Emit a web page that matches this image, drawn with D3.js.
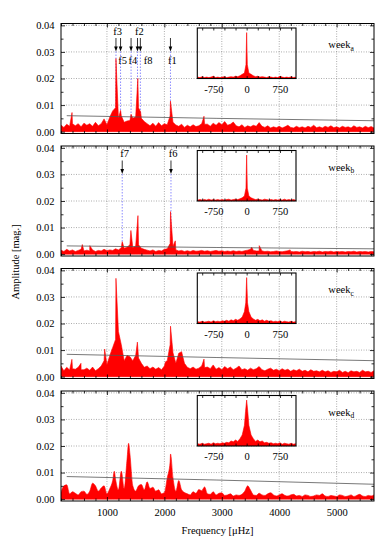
<!DOCTYPE html>
<html>
<head>
<meta charset="utf-8">
<script src="https://cdn.jsdelivr.net/npm/d3@7/dist/d3.min.js"></script>
<style>
    body { margin: 0; background: #fff; }
    svg { display: block; }
    text { font-family: "Liberation Serif", "Times New Roman", serif; font-size: 10.5px; fill: #000; }
</style>
</head>
<body>
<svg id="chart" width="390" height="558"></svg>
<script>
// amplitude spectra, mmag, on a 50 uHz grid from 200 to 5650 uHz
var gridFreqs = d3.range(200, 5651, 50);

var noiseA = [
    2.4, 1.6, 2.8, 2.0, 3.0, 2.2, 3.0, 1.8, 3.2, 2.4,
    3.0, 2.0, 3.5, 2.2, 3.0, 4.8, 2.6, 5.5, 7.8, 9.0,
    5.0, 6.0, 3.5, 4.0, 4.2, 5.0, 5.5, 9.0, 5.0, 3.8,
    3.0, 2.2, 3.2, 2.0, 3.4, 2.2, 3.0, 2.6, 6.0, 3.5,
    2.5, 2.0, 2.8, 1.6, 2.4, 1.8, 2.6, 1.9, 2.2, 3.0,
    2.8, 2.8, 2.0, 3.2, 2.4, 3.4, 2.6, 3.8, 2.4, 2.8,
    3.6, 2.2, 1.8, 2.6, 1.6, 2.2, 1.8, 2.4, 2.0, 3.4,
    2.0, 1.6, 2.2, 1.4, 1.8, 1.5, 2.0, 1.4, 1.8, 2.4,
    1.6, 1.4, 2.0, 1.5, 1.8, 1.4, 2.0, 1.6, 2.4, 1.5,
    1.8, 1.4, 2.0, 1.6, 2.2, 1.5, 1.8, 1.4, 2.0, 1.6,
    1.8, 1.4, 2.2, 1.6, 1.8, 1.4, 2.0, 1.5, 1.9, 1.4
];
var noiseB = [
    1.5, 1.0, 1.8, 1.2, 1.6, 1.0, 1.4, 1.8, 1.2, 1.5,
    1.2, 1.6, 1.0, 1.4, 1.2, 1.8, 1.3, 1.6, 1.4, 2.0,
    1.6, 2.4, 2.2, 2.6, 3.5, 2.5, 3.0, 3.5, 2.2, 1.8,
    1.5, 1.2, 1.6, 1.0, 1.4, 1.2, 1.8, 2.0, 4.0, 3.0,
    1.6, 1.2, 1.4, 1.0, 1.3, 1.0, 1.4, 1.1, 1.2, 1.4,
    1.1, 1.3, 1.0, 1.2, 1.4, 1.1, 1.3, 1.0, 1.2, 1.0,
    1.3, 1.0, 1.2, 1.0, 1.3, 1.5, 1.8, 1.4, 1.2, 1.2,
    1.2, 1.0, 1.1, 0.9, 1.0, 1.2, 1.0, 0.9, 1.1, 1.3,
    1.0, 0.9, 1.0, 0.8, 1.1, 0.9, 1.0, 0.8, 1.0, 0.9,
    1.1, 0.8, 1.0, 0.9, 1.1, 0.8, 1.0, 0.9, 1.0, 0.8,
    1.0, 0.9, 1.1, 0.8, 1.0, 0.9, 1.0, 0.8, 1.0, 0.9
];
var noiseC = [
    4.0, 2.2, 3.5, 2.5, 3.0, 2.8, 3.5, 2.6, 2.6, 3.2,
    2.4, 3.6, 2.2, 3.0, 4.0, 6.0, 4.5, 8.0, 11.0, 14.0,
    17.0, 12.0, 6.0, 8.0, 7.5, 6.0, 8.0, 7.0, 5.0, 3.5,
    4.0, 3.0, 3.6, 2.8, 3.4, 2.6, 4.0, 6.0, 12.0, 9.0,
    5.0, 8.8, 9.4, 5.0, 3.5, 3.0, 3.6, 2.8, 3.2, 4.0,
    3.4, 3.6, 3.0, 4.4, 2.8, 3.4, 2.6, 3.8, 3.0, 3.6,
    2.6, 3.2, 4.0, 2.6, 3.0, 2.4, 3.2, 2.6, 3.0, 3.8,
    2.6, 2.2, 2.8, 3.2, 2.4, 2.8, 2.2, 3.0, 2.4, 2.8,
    2.0, 2.6, 2.2, 2.8, 2.0, 2.4, 1.8, 2.6, 2.0, 2.2,
    1.8, 2.4, 1.8, 2.2, 1.6, 2.0, 1.8, 2.4, 1.6, 2.0,
    1.5, 2.2, 1.8, 2.0, 1.6, 2.4, 1.8, 2.0, 1.6, 2.2
];
var noiseD = [
    2.5, 5.0, 5.4, 2.0, 2.8, 2.2, 1.6, 2.8, 3.0, 1.8,
    3.0, 6.0, 5.0, 3.0, 4.2, 5.0, 2.0, 4.0, 7.0, 7.5,
    3.5, 10.5, 4.0, 15.0, 17.0, 5.0, 3.0, 5.0, 5.5, 3.5,
    6.5, 4.0, 4.5, 3.0, 3.5, 2.0, 2.5, 8.0, 14.0, 8.0,
    3.0, 7.0, 3.5, 2.5, 2.0, 1.6, 2.8, 2.2, 3.6, 3.2,
    4.6, 2.0, 1.8, 2.8, 1.6, 2.2, 2.4, 1.4, 1.6, 2.0,
    1.2, 1.6, 1.4, 1.8, 3.0, 5.0, 3.4, 1.6, 1.4, 2.2,
    1.6, 1.4, 2.0, 2.4, 1.6, 1.2, 1.6, 2.0, 1.4, 1.2,
    1.6, 1.8, 1.2, 1.4, 1.0, 1.6, 1.4, 1.0, 1.2, 1.6,
    1.4, 2.0, 1.2, 1.0, 1.4, 1.2, 1.0, 1.6, 1.4, 1.0,
    1.2, 1.6, 1.0, 1.4, 1.8, 1.2, 1.0, 1.4, 1.2, 1.6
];

// narrow peaks on top of the grid: [uHz, mmag]
var peaksA = [[392, 7.2], [1157, 27.5], [1237, 8.0], [1420, 6.5], [1538, 20.0], [1585, 7.5], [2106, 11.5], [2690, 5.8]];
var peaksB = [[571, 3.6], [702, 3.2], [1266, 4.7], [1417, 8.9], [1540, 14.5], [2107, 16.0], [2190, 5.0], [3520, 2.6], [3652, 3.2], [4190, 1.6]];
var peaksC = [[390, 6.5], [548, 5.0], [960, 10.4], [1157, 37.0], [1530, 13.0], [2020, 5.6], [2107, 19.0], [2690, 6.6]];
var peaksD = [[1128, 10.5], [1377, 21.0], [2107, 17.0]];

// 4 sigma noise level: [uHz, mmag]
var sigA = [[300, 6.0], [2900, 5.0], [5650, 4.1]];
var sigB = [[300, 3.1], [2900, 2.5], [5650, 2.0]];
var sigC = [[300, 8.4], [2900, 7.2], [5650, 6.0]];
var sigD = [[300, 8.5], [2900, 7.2], [5650, 5.6]];

// spectral windows, relative amplitude, 50 uHz grid from -1100 to 1100
var windowFreqs = d3.range(-1100, 1101, 50);
var windowA = [.03, .02, .04, .02, .03, .02, .03, .05, .02, .03, .02, .03, .04, .02, .03, .04, .03, .05, .04, .06, .09, .12,
    1.0, .12, .09, .06, .04, .05, .03, .04, .03, .02, .04, .03, .02, .03, .02, .05, .03, .02, .03, .02, .04, .02, .03];
var windowB = [.02, .03, .02, .03, .02, .04, .02, .03, .02, .03, .02, .03, .02, .03, .04, .02, .03, .04, .03, .05, .07, .11,
    1.0, .11, .07, .05, .03, .04, .03, .02, .04, .03, .02, .03, .02, .03, .02, .03, .02, .04, .02, .03, .02, .03, .02];
var windowC = [.04, .03, .05, .03, .04, .05, .03, .06, .04, .05, .04, .06, .05, .07, .05, .08, .06, .09, .07, .10, .14, .26,
    1.0, .26, .14, .10, .07, .09, .06, .08, .05, .07, .05, .06, .04, .05, .04, .06, .03, .05, .04, .03, .05, .03, .04];
var windowD = [.05, .04, .06, .04, .05, .06, .04, .07, .05, .06, .05, .07, .06, .08, .07, .11, .09, .13, .10, .16, .24, .45,
    1.0, .45, .24, .16, .10, .13, .09, .11, .07, .08, .06, .07, .05, .06, .05, .07, .04, .06, .05, .04, .06, .04, .05];
var windowPeakA = [[-15, .30], [15, .30]];
var windowPeakB = [[-15, .28], [15, .28]];
var windowPeakC = [[-20, .45], [20, .45]];
var windowPeakD = [[-25, .75], [25, .75]];

// identified frequencies: name, uHz, label uHz, label row
var markersA = [
    {name: 'f3', freq: 1157, labelFreq: 1110, row: 'above'},
    {name: 'f5', freq: 1237, labelFreq: 1195, row: 'below'},
    {name: 'f4', freq: 1420, labelFreq: 1375, row: 'below'},
    {name: 'f2', freq: 1532, labelFreq: 1490, row: 'above'},
    {name: 'f8', freq: 1582, labelFreq: 1640, row: 'below'},
    {name: 'f1', freq: 2106, labelFreq: 2065, row: 'below'}
];
var markersB = [
    {name: 'f7', freq: 1266, labelFreq: 1230, row: 'above'},
    {name: 'f6', freq: 2115, labelFreq: 2075, row: 'above'}
];

var weekNames = ['a', 'b', 'c', 'd'];
var yTicks = [0, 0.01, 0.02, 0.03, 0.04];
var xTicks = [1000, 2000, 3000, 4000, 5000];
var windowTicks = [-750, 0, 750];

var panels = [
    {noise: noiseA, peaks: peaksA, sig: sigA, win: windowA, winPeak: windowPeakA, markers: markersA, smooth: false},
    {noise: noiseB, peaks: peaksB, sig: sigB, win: windowB, winPeak: windowPeakB, markers: markersB, smooth: false},
    {noise: noiseC, peaks: peaksC, sig: sigC, win: windowC, winPeak: windowPeakC, markers: [], smooth: false},
    {noise: noiseD, peaks: peaksD, sig: sigD, win: windowD, winPeak: windowPeakD, markers: [], smooth: true}
];

var left = 61, right = 374, panelH = 110, firstTop = 23.5, panelStep = 122.5;
var width = right - left;
var svg = d3.select('#chart');

var x = d3.scaleLinear().domain([200, 5650]).range([0, width]);
var y = d3.scaleLinear().domain([-0.0007, 0.0407]).range([panelH, 0]);
var wx = d3.scaleLinear().domain([-1110, 1110]).range([0, 98.7]);
var wy = d3.scaleLinear().domain([0, 1.1]).range([50.5, 0]);

/**
 * Merges the regular grid with the narrow peaks, sorted by frequency
 */
function buildSeries(freqs, values, peaks, scale) {
    var pts = values.map(function (v, i) { return {f: freqs[i], a: v * scale}; });
    peaks.forEach(function (p) { pts.push({f: p[0], a: p[1] * scale}); });
    return pts.sort(function (a, b) { return a.f - b.f; });
}

function styleTicks(g) {
    g.select('.domain').remove();
    g.selectAll('.tick line').attr('stroke', '#000').attr('stroke-width', 0.8);
    g.selectAll('.tick text').attr('font-family', null).attr('font-size', null);
}

var minorX = d3.range(200, 5651, 200).filter(function (v) { return v % 1000 !== 0; });
var minorY = [0.005, 0.015, 0.025, 0.035];

panels.forEach(function (p, i) {
    var top = firstTop + i * panelStep;
    var g = svg.append('g').attr('transform', 'translate(' + left + ',' + top + ')');
    var clipId = 'clip' + i;
    g.append('clipPath').attr('id', clipId).append('rect').attr('width', width).attr('height', panelH);

    // grid
    var grid = g.append('g').attr('stroke', '#8a8a8a').attr('stroke-width', 0.7).attr('stroke-dasharray', '1,1.5');
    grid.selectAll('.gx').data(xTicks).enter().append('line')
        .attr('x1', x).attr('x2', x).attr('y1', 0).attr('y2', panelH);
    grid.selectAll('.gy').data(yTicks.slice(1)).enter().append('line')
        .attr('x1', 0).attr('x2', width).attr('y1', y).attr('y2', y);

    // dashed guides of identified frequencies
    var tip = 28;
    g.selectAll('.guide').data(p.markers).enter().append('line')
        .attr('x1', function (d) { return x(d.freq); }).attr('x2', function (d) { return x(d.freq); })
        .attr('y1', tip).attr('y2', y(0))
        .attr('stroke', '#6f6fff').attr('stroke-width', 0.8).attr('stroke-dasharray', '1.5,1.5');

    // spectrum
    var series = buildSeries(gridFreqs, p.noise, p.peaks, 0.001);
    var area = d3.area()
        .x(function (d) { return x(d.f); })
        .y0(y(0))
        .y1(function (d) { return y(d.a); })
        .curve(p.smooth ? d3.curveMonotoneX : d3.curveLinear);
    g.append('path').datum(series).attr('clip-path', 'url(#' + clipId + ')')
        .attr('d', area).attr('fill', '#ff0000').attr('stroke', '#ff0000').attr('stroke-width', 0.6)
        .attr('stroke-linejoin', 'round');

    // noise level
    g.append('path').datum(p.sig).attr('clip-path', 'url(#' + clipId + ')')
        .attr('d', d3.line().x(function (d) { return x(d[0]); }).y(function (d) { return y(d[1] / 1000); }))
        .attr('fill', 'none').attr('stroke', '#555').attr('stroke-width', 0.8);

    // arrows
    var arrows = g.selectAll('.arrow').data(p.markers).enter().append('g');
    arrows.append('line')
        .attr('x1', function (d) { return x(d.freq); }).attr('x2', function (d) { return x(d.freq); })
        .attr('y1', 14.5).attr('y2', tip - 3).attr('stroke', '#000').attr('stroke-width', 0.8);
    arrows.append('path')
        .attr('d', function (d) {
            var cx = x(d.freq);
            return 'M' + (cx - 1.8) + ',' + (tip - 5) + 'L' + (cx + 1.8) + ',' + (tip - 5) + 'L' + cx + ',' + tip + 'Z';
        })
        .attr('fill', '#000');
    arrows.append('text')
        .attr('x', function (d) { return x(d.labelFreq); })
        .attr('y', function (d) { return d.row === 'above' ? 11 : 40.8; })
        .text(function (d) { return d.name; });

    // inset with the spectral window
    var inset = g.append('g').attr('transform', 'translate(136.3,4.5)');
    inset.append('clipPath').attr('id', 'wclip' + i).append('rect').attr('width', 98.7).attr('height', 50.5);
    var win = buildSeries(windowFreqs, p.win, p.winPeak, 1);
    inset.append('path').datum(win).attr('clip-path', 'url(#wclip' + i + ')')
        .attr('d', d3.area().x(function (d) { return wx(d.f); }).y0(wy(0)).y1(function (d) { return wy(d.a); }))
        .attr('fill', '#ff0000').attr('stroke', '#ff0000').attr('stroke-width', 0.6);
    inset.append('g').attr('transform', 'translate(0,50.5)')
        .call(d3.axisBottom(wx).tickValues(d3.range(-1000, 1001, 250)).tickSizeInner(-2.5).tickSizeOuter(0).tickPadding(7)
            .tickFormat(function (v) { return windowTicks.indexOf(v) >= 0 ? String(v) : ''; }))
        .call(styleTicks);
    inset.append('g')
        .call(d3.axisTop(wx).tickValues(d3.range(-1000, 1001, 250)).tickSizeInner(-2.5).tickSizeOuter(0).tickFormat(''))
        .call(styleTicks);
    inset.append('rect').attr('width', 98.7).attr('height', 50.5)
        .attr('fill', 'none').attr('stroke', '#000').attr('stroke-width', 1.1);

    // week label
    var wk = g.append('text').attr('x', 267.3).attr('y', 24.5).text('week');
    wk.append('tspan').attr('dy', 2.5).attr('font-size', '7.5px').text(weekNames[i]);

    // ticks
    g.append('g').call(d3.axisLeft(y).tickValues(yTicks).tickSizeInner(-4).tickSizeOuter(0).tickPadding(6.5)
        .tickFormat(d3.format('.2f'))).call(styleTicks);
    g.append('g').call(d3.axisLeft(y).tickValues(minorY).tickSizeInner(-2.5).tickSizeOuter(0).tickFormat(''))
        .call(styleTicks);
    g.append('g').attr('transform', 'translate(' + width + ',0)')
        .call(d3.axisRight(y).tickValues(yTicks).tickSizeInner(-4).tickSizeOuter(0).tickFormat('')).call(styleTicks);
    g.append('g').attr('transform', 'translate(' + width + ',0)')
        .call(d3.axisRight(y).tickValues(minorY).tickSizeInner(-2.5).tickSizeOuter(0).tickFormat('')).call(styleTicks);
    var last = i === panels.length - 1;
    g.append('g').attr('transform', 'translate(0,' + panelH + ')')
        .call(d3.axisBottom(x).tickValues(xTicks).tickSizeInner(-4).tickSizeOuter(0).tickPadding(7.5)
            .tickFormat(last ? d3.format('d') : '')).call(styleTicks);
    g.append('g').attr('transform', 'translate(0,' + panelH + ')')
        .call(d3.axisBottom(x).tickValues(minorX).tickSizeInner(-2.5).tickSizeOuter(0).tickFormat('')).call(styleTicks);
    g.append('g').call(d3.axisTop(x).tickValues(xTicks).tickSizeInner(-4).tickSizeOuter(0).tickFormat(''))
        .call(styleTicks);
    g.append('g').call(d3.axisTop(x).tickValues(minorX).tickSizeInner(-2.5).tickSizeOuter(0).tickFormat(''))
        .call(styleTicks);

    g.append('rect').attr('width', width).attr('height', panelH)
        .attr('fill', 'none').attr('stroke', '#000').attr('stroke-width', 1);
});

svg.append('text').attr('transform', 'translate(15,262) rotate(-90)').attr('text-anchor', 'middle')
    .attr('dy', '0.35em').text('Amplitude [mag.]');
svg.append('text').attr('x', left + width / 2).attr('y', 533.5).attr('text-anchor', 'middle')
    .text('Frequency [\u03bcHz]');
</script>
</body>
</html>
